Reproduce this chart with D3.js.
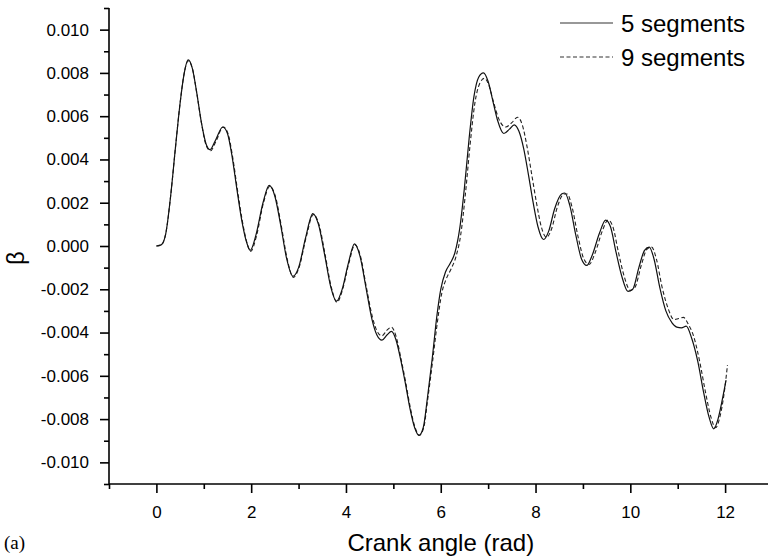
<!DOCTYPE html>
<html>
<head>
<meta charset="utf-8">
<script src="https://cdn.jsdelivr.net/npm/d3@7"></script>
<style>
  body { margin: 0; background: #fff; }
  svg { display: block; }
  text { font-family: "Liberation Sans", Arial, sans-serif; fill: #000; }
</style>
</head>
<body>
<svg id="chart" width="768" height="558"></svg>
<script>
// ---- data ----
const seriesNames = ["5 segments", "9 segments"];

const x5 = [0.00,0.10,0.20,0.30,0.40,0.50,0.58,0.67,0.76,0.85,0.95,1.05,1.13,1.25,1.40,1.50,1.60,1.70,1.80,1.90,1.98,2.10,2.25,2.38,2.50,2.62,2.75,2.88,3.00,3.15,3.30,3.42,3.55,3.68,3.80,3.92,4.05,4.18,4.30,4.42,4.55,4.65,4.76,4.87,4.96,5.05,5.15,5.25,5.35,5.45,5.54,5.63,5.72,5.82,5.92,6.00,6.10,6.20,6.30,6.40,6.50,6.60,6.70,6.80,6.90,7.00,7.10,7.20,7.33,7.45,7.55,7.65,7.75,7.85,7.95,8.05,8.17,8.28,8.40,8.55,8.62,8.72,8.85,8.97,9.08,9.20,9.35,9.48,9.58,9.70,9.82,9.95,10.05,10.18,10.30,10.40,10.50,10.62,10.75,10.88,10.98,11.08,11.18,11.30,11.42,11.55,11.66,11.76,11.85,11.95,12.02];
const y5 = [0.00,0.05,0.6,2.3,4.5,6.6,7.9,8.6,8.2,7.1,5.7,4.7,4.45,4.9,5.5,5.2,4.1,2.6,1.2,0.2,-0.2,0.5,2.0,2.8,2.3,1.0,-0.6,-1.4,-1.0,0.4,1.5,1.0,-0.4,-1.9,-2.55,-2.0,-0.8,0.1,-0.5,-1.9,-3.4,-4.1,-4.35,-4.1,-3.95,-4.3,-5.2,-6.3,-7.5,-8.4,-8.75,-8.4,-7.0,-5.2,-3.2,-2.0,-1.2,-0.8,-0.3,0.8,2.7,5.0,6.9,7.8,8.0,7.6,6.7,5.8,5.2,5.4,5.6,5.3,4.5,3.3,2.0,0.9,0.3,0.7,1.7,2.4,2.45,1.9,0.5,-0.6,-0.9,-0.4,0.6,1.2,0.9,-0.3,-1.4,-2.1,-2.0,-1.0,-0.2,-0.05,-0.6,-1.9,-3.0,-3.55,-3.75,-3.78,-3.7,-4.3,-5.3,-6.8,-7.9,-8.45,-8.0,-7.0,-6.2];

const x9 = [0.00,0.10,0.20,0.30,0.40,0.50,0.58,0.67,0.76,0.85,0.95,1.05,1.14,1.26,1.41,1.51,1.61,1.71,1.81,1.91,1.99,2.11,2.26,2.39,2.51,2.63,2.76,2.89,3.01,3.16,3.31,3.43,3.56,3.69,3.81,3.93,4.06,4.19,4.31,4.43,4.56,4.66,4.76,4.86,4.96,5.06,5.16,5.26,5.36,5.46,5.55,5.64,5.73,5.83,5.93,6.02,6.12,6.22,6.32,6.42,6.52,6.62,6.72,6.82,6.92,7.02,7.12,7.22,7.37,7.50,7.62,7.72,7.82,7.92,8.02,8.12,8.23,8.34,8.46,8.60,8.67,8.77,8.90,9.02,9.13,9.26,9.41,9.53,9.63,9.75,9.87,10.00,10.10,10.23,10.35,10.45,10.55,10.67,10.80,10.92,11.02,11.12,11.22,11.34,11.46,11.59,11.70,11.80,11.89,11.98,12.05];
const y9 = [0.00,0.05,0.6,2.3,4.5,6.6,7.9,8.55,8.2,7.1,5.7,4.65,4.4,4.85,5.5,5.2,4.1,2.6,1.2,0.15,-0.25,0.45,2.0,2.75,2.3,1.0,-0.6,-1.45,-1.0,0.4,1.45,1.0,-0.4,-1.9,-2.6,-2.0,-0.8,0.05,-0.5,-1.9,-3.3,-3.95,-4.15,-3.9,-3.75,-4.2,-5.2,-6.3,-7.5,-8.4,-8.75,-8.4,-7.0,-5.3,-3.5,-2.2,-1.5,-1.05,-0.5,0.5,2.4,4.7,6.6,7.5,7.75,7.4,6.6,5.9,5.5,5.7,5.95,5.6,4.6,3.3,2.0,0.9,0.4,0.8,1.8,2.4,2.4,1.8,0.4,-0.6,-0.85,-0.3,0.7,1.2,0.9,-0.3,-1.4,-2.05,-1.9,-0.9,-0.15,-0.05,-0.6,-1.9,-2.9,-3.4,-3.35,-3.3,-3.6,-4.2,-5.3,-6.8,-7.9,-8.4,-7.9,-6.8,-5.5];

const xMajorTicks = [0, 2, 4, 6, 8, 10, 12];
const xMinorTicks = [-1, 1, 3, 5, 7, 9, 11];
const yMajorTicks = [-0.010, -0.008, -0.006, -0.004, -0.002, 0.000, 0.002, 0.004, 0.006, 0.008, 0.010];
const yMinorTicks = [-0.011, -0.009, -0.007, -0.005, -0.003, -0.001, 0.001, 0.003, 0.005, 0.007, 0.009, 0.011];

// ---- chart ----
const svg = d3.select("#chart");
const x = d3.scaleLinear().domain([-1, 13]).range([109, 772.5]);
const y = d3.scaleLinear().domain([-0.011, 0.011]).range([484, 8]);

const fmt = d => d3.format(".3f")(d).replace("\u2212", "-");

// y axis
const gy = svg.append("g").attr("transform", "translate(109,0)");
gy.call(d3.axisLeft(y).tickValues(yMajorTicks).tickSize(9).tickPadding(11).tickFormat(fmt));
gy.append("g").call(d3.axisLeft(y).tickValues(yMinorTicks).tickSize(5).tickFormat(""));
gy.selectAll(".domain").remove();
gy.append("line").attr("x1", 0).attr("x2", 0).attr("y1", y(0.011)).attr("y2", y(-0.011))
  .attr("stroke", "#000").attr("stroke-width", 1.6);
gy.selectAll("line").attr("stroke", "#000").attr("stroke-width", 1.6);
gy.selectAll("text").style("font-size", "17px").style("font-family", "Liberation Sans, Arial, sans-serif");

// x axis
const gx = svg.append("g").attr("transform", "translate(0,484)");
gx.call(d3.axisBottom(x).tickValues(xMajorTicks).tickSize(9).tickPadding(13).tickFormat(d3.format("d")));
gx.append("g").call(d3.axisBottom(x).tickValues(xMinorTicks).tickSize(5).tickFormat(""));
gx.selectAll(".domain").remove();
gx.append("line").attr("x1", 109).attr("x2", 768).attr("y1", 0).attr("y2", 0)
  .attr("stroke", "#000").attr("stroke-width", 1.6);
gx.selectAll("line").attr("stroke", "#000").attr("stroke-width", 1.6);
gx.selectAll("text").style("font-size", "17px").style("font-family", "Liberation Sans, Arial, sans-serif");

// lines
const line = d3.line().x(d => x(d[0])).y(d => y(d[1] / 1000)).curve(d3.curveMonotoneX);
const d5 = x5.map((v, i) => [v, y5[i]]);
const d9 = x9.map((v, i) => [v, y9[i]]);

svg.append("path").datum(d9).attr("d", line)
  .attr("fill", "none").attr("stroke", "#222").attr("stroke-width", 1.1)
  .attr("stroke-dasharray", "4,2.5");
svg.append("path").datum(d5).attr("d", line)
  .attr("fill", "none").attr("stroke", "#111").attr("stroke-width", 1.2);

// legend
const leg = svg.append("g");
const legY = [23, 57];
leg.append("line").attr("x1", 560).attr("x2", 613).attr("y1", legY[0]).attr("y2", legY[0])
  .attr("stroke", "#333").attr("stroke-width", 1.2);
leg.append("line").attr("x1", 560).attr("x2", 613).attr("y1", legY[1]).attr("y2", legY[1])
  .attr("stroke", "#333").attr("stroke-width", 1.1).attr("stroke-dasharray", "4,2.5");
seriesNames.forEach((n, i) => {
  leg.append("text").attr("x", 621).attr("y", legY[i] + 8.5).style("font-size", "24px").text(n);
});

// axis titles
svg.append("text").attr("x", x(6)).attr("y", 551).attr("text-anchor", "middle")
  .style("font-size", "24px").text("Crank angle (rad)");
svg.append("text").attr("transform", "translate(24,258) rotate(-90)").attr("text-anchor", "middle")
  .style("font-size", "24px").text("β");
svg.append("text").attr("x", 4).attr("y", 549)
  .style("font-family", "Liberation Serif, Times New Roman, serif").style("font-size", "19px").text("(a)");
</script>
</body>
</html>
